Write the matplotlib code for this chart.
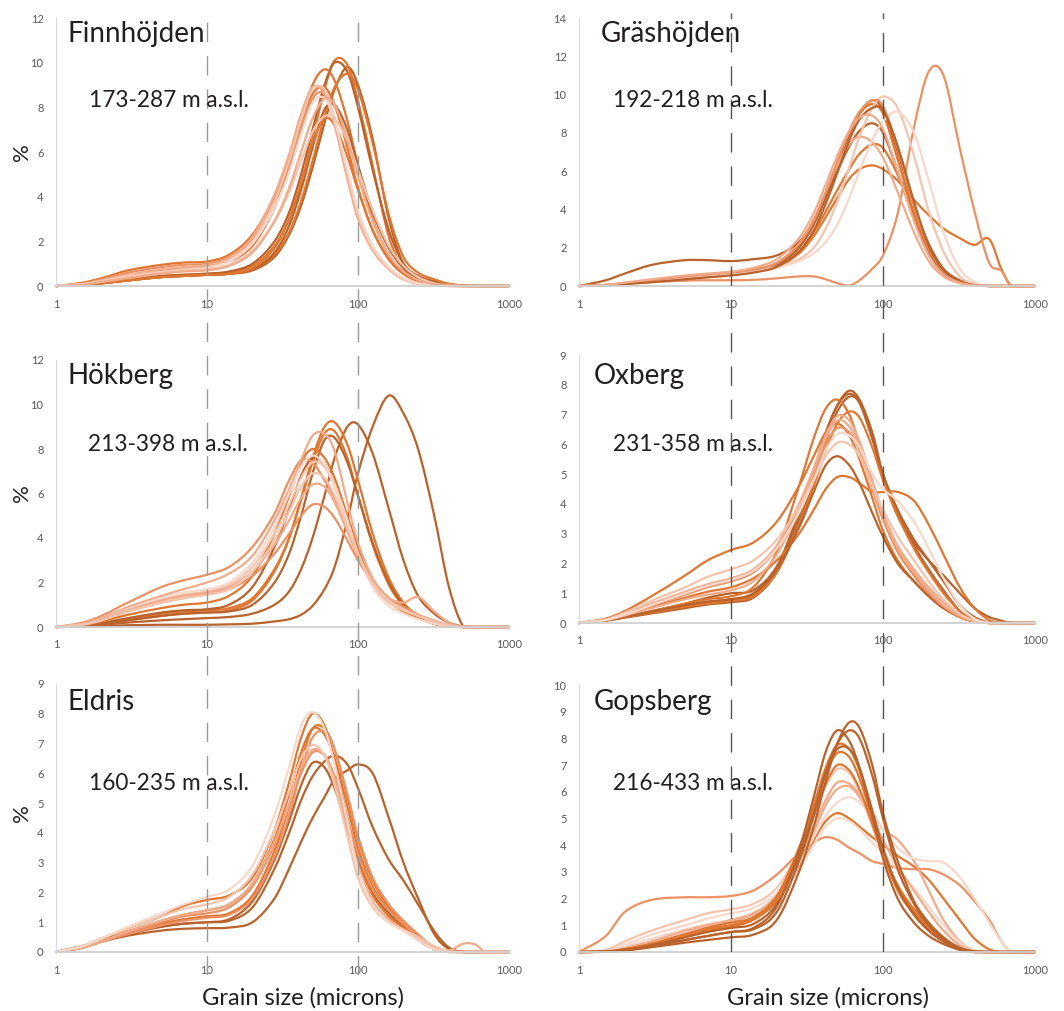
import matplotlib
matplotlib.use('Agg')
import matplotlib.pyplot as plt
import numpy as np
from matplotlib.path import Path
from matplotlib.patches import PathPatch
from matplotlib.ticker import FixedLocator, NullLocator

# grain size classes (microns) shared by all curves
grain_size = [1, 1.5, 2, 3, 5, 7, 10, 14, 20, 28, 35, 42, 50, 60, 70, 85,
              100, 125, 160, 200, 250, 320, 400, 500, 600, 700, 1000]

# shades of orange used for the samples
D = '#B9622B'
O = '#DF7731'
M = '#EB9163'
L = '#F1AB8B'
P = '#F5C4AE'
W = '#F8D8CB'

# --- Finnhöjden ---
finn_colors = [D, O, D, O, O, D, O, O, M, L, P, W, P, L]
finn_curves = [
    [0, 0.05, 0.12, 0.25, 0.4, 0.45, 0.5, 0.55, 0.7, 1.3, 2.3, 3.6, 5.3, 7.3, 8.8, 9.8, 9.0, 6.6, 3.0, 1.0, 0.45, 0.2, 0.08, 0.03, 0.01, 0, 0],
    [0, 0.05, 0.15, 0.3, 0.45, 0.5, 0.55, 0.6, 0.9, 1.8, 3.0, 4.6, 6.6, 8.8, 10.1, 9.9, 8.3, 5.4, 2.2, 0.8, 0.35, 0.15, 0.05, 0.01, 0, 0, 0],
    [0, 0.05, 0.15, 0.3, 0.45, 0.5, 0.55, 0.65, 1.0, 2.0, 3.3, 5.0, 7.0, 9.0, 10.0, 9.6, 8.0, 5.2, 2.5, 1.0, 0.45, 0.2, 0.05, 0, 0, 0, 0],
    [0, 0.08, 0.2, 0.45, 0.7, 0.8, 0.9, 1.1, 1.8, 3.5, 5.3, 7.3, 9.0, 9.7, 9.2, 7.4, 5.4, 3.0, 1.4, 0.6, 0.25, 0.08, 0.02, 0, 0, 0, 0],
    [0, 0.05, 0.12, 0.25, 0.4, 0.45, 0.5, 0.55, 0.75, 1.4, 2.4, 3.8, 5.6, 7.6, 8.9, 9.5, 8.8, 6.4, 3.2, 1.3, 0.6, 0.3, 0.1, 0.02, 0, 0, 0],
    [0, 0.05, 0.12, 0.25, 0.4, 0.45, 0.5, 0.55, 0.75, 1.5, 2.7, 4.3, 6.2, 7.9, 8.1, 7.0, 5.4, 3.3, 1.7, 0.8, 0.35, 0.12, 0.03, 0, 0, 0, 0],
    [0, 0.05, 0.12, 0.25, 0.4, 0.45, 0.5, 0.55, 0.8, 1.7, 3.0, 4.6, 6.4, 7.5, 7.2, 5.8, 4.3, 2.5, 1.2, 0.55, 0.25, 0.08, 0.02, 0, 0, 0, 0],
    [0, 0.15, 0.35, 0.7, 0.95, 1.05, 1.1, 1.4, 2.3, 4.0, 5.7, 7.3, 8.6, 8.9, 8.1, 6.2, 4.4, 2.5, 1.2, 0.55, 0.22, 0.06, 0.01, 0, 0, 0, 0],
    [0, 0.1, 0.3, 0.6, 0.85, 0.95, 1.0, 1.3, 2.1, 3.8, 5.4, 7.0, 8.4, 8.6, 7.4, 5.0, 3.2, 1.7, 0.8, 0.35, 0.12, 0.03, 0, 0, 0, 0, 0],
    [0, 0.1, 0.25, 0.5, 0.75, 0.85, 0.95, 1.25, 2.2, 4.1, 5.9, 7.7, 8.9, 8.6, 7.2, 4.8, 3.0, 1.6, 0.75, 0.3, 0.1, 0.03, 0, 0, 0, 0, 0],
    [0, 0.08, 0.22, 0.45, 0.65, 0.75, 0.85, 1.15, 2.0, 3.8, 5.6, 7.4, 8.8, 8.8, 7.5, 5.1, 3.2, 1.7, 0.8, 0.35, 0.12, 0.03, 0, 0, 0, 0, 0],
    [0, 0.08, 0.2, 0.4, 0.6, 0.7, 0.8, 1.1, 1.9, 3.5, 5.1, 6.8, 8.2, 8.4, 7.4, 5.2, 3.4, 1.8, 0.85, 0.35, 0.12, 0.03, 0, 0, 0, 0, 0],
    [0, 0.08, 0.2, 0.4, 0.6, 0.7, 0.75, 0.95, 1.6, 2.9, 4.2, 5.6, 6.9, 7.6, 7.5, 6.5, 5.2, 3.4, 1.8, 0.9, 0.4, 0.12, 0.03, 0, 0, 0, 0],
    [0, 0.06, 0.18, 0.35, 0.55, 0.65, 0.7, 0.9, 1.5, 2.9, 4.4, 6.0, 7.5, 8.4, 8.1, 6.6, 4.9, 2.9, 1.4, 0.65, 0.27, 0.08, 0.02, 0, 0, 0, 0],
]

# --- Gräshöjden ---
gras_colors = [D, O, M, O, D, O, L, P, W, M, D, L]
gras_curves = [
    [0, 0.3, 0.65, 1.1, 1.35, 1.35, 1.3, 1.4, 1.6, 2.3, 3.4, 4.8, 6.3, 7.9, 9.0, 9.7, 9.2, 7.0, 4.2, 2.2, 0.9, 0.3, 0.08, 0, 0, 0, 0],
    [0, 0.05, 0.12, 0.25, 0.4, 0.5, 0.6, 0.75, 1.0, 1.7, 2.6, 3.6, 4.6, 5.6, 6.1, 6.3, 6.1, 5.5, 4.5, 3.7, 3.0, 2.5, 2.15, 2.45, 0.9, 0, 0],
    [0, 0.05, 0.12, 0.2, 0.28, 0.3, 0.3, 0.32, 0.4, 0.5, 0.5, 0.35, 0.15, 0.03, 0.3, 0.9, 1.6, 3.8, 8.3, 11.2, 11.0, 7.2, 3.9, 1.2, 0.8, 0, 0],
    [0, 0.05, 0.15, 0.3, 0.5, 0.6, 0.7, 0.85, 1.2, 2.1, 3.3, 4.8, 6.4, 8.0, 9.0, 9.5, 9.0, 6.6, 3.8, 1.8, 0.7, 0.2, 0.05, 0, 0, 0, 0],
    [0, 0.05, 0.12, 0.25, 0.45, 0.55, 0.65, 0.8, 1.1, 2.0, 3.2, 4.6, 6.0, 7.3, 8.1, 8.5, 8.0, 6.0, 3.5, 1.7, 0.65, 0.2, 0.05, 0, 0, 0, 0],
    [0, 0.05, 0.12, 0.25, 0.45, 0.55, 0.6, 0.75, 1.0, 1.8, 2.8, 3.9, 5.0, 6.1, 6.9, 7.4, 7.2, 5.8, 3.7, 1.9, 0.8, 0.25, 0.06, 0, 0, 0, 0],
    [0, 0.05, 0.15, 0.3, 0.5, 0.6, 0.7, 0.85, 1.2, 2.2, 3.5, 4.9, 6.3, 7.4, 7.8, 7.5, 6.7, 4.9, 2.8, 1.3, 0.5, 0.15, 0.03, 0, 0, 0, 0],
    [0, 0.05, 0.15, 0.3, 0.5, 0.6, 0.7, 0.8, 1.0, 1.4, 2.0, 3.0, 4.4, 6.2, 7.8, 9.3, 9.9, 9.3, 6.8, 3.9, 1.8, 0.5, 0.1, 0, 0, 0, 0],
    [0, 0.05, 0.12, 0.25, 0.45, 0.55, 0.65, 0.75, 0.95, 1.3, 1.7, 2.3, 3.2, 4.6, 6.0, 7.6, 8.6, 9.1, 8.0, 5.5, 2.8, 0.9, 0.2, 0, 0, 0, 0],
    [0, 0.05, 0.15, 0.3, 0.5, 0.6, 0.7, 0.85, 1.2, 2.2, 3.4, 4.9, 6.5, 8.1, 9.1, 9.7, 9.4, 7.2, 4.2, 2.0, 0.8, 0.25, 0.05, 0, 0, 0, 0],
    [0, 0.04, 0.1, 0.2, 0.35, 0.45, 0.55, 0.7, 1.0, 1.8, 2.9, 4.3, 5.9, 7.6, 8.7, 9.3, 9.2, 7.3, 4.4, 2.1, 0.85, 0.25, 0.05, 0, 0, 0, 0],
    [0, 0.06, 0.18, 0.35, 0.55, 0.65, 0.75, 0.95, 1.4, 2.5, 3.8, 5.3, 6.8, 8.1, 8.8, 8.9, 8.2, 6.0, 3.4, 1.6, 0.6, 0.18, 0.04, 0, 0, 0, 0],
]

# --- Hökberg ---
hok_colors = [D, D, O, O, D, D, O, M, L, M, P, W, L, P]
hok_curves = [
    [0, 0.02, 0.05, 0.08, 0.1, 0.1, 0.1, 0.12, 0.15, 0.25, 0.35, 0.55, 0.95, 1.7, 2.7, 4.8, 6.9, 9.0, 10.4, 9.6, 8.0, 5.0, 1.8, 0, 0, 0, 0],
    [0, 0.03, 0.1, 0.2, 0.3, 0.35, 0.4, 0.45, 0.6, 1.0, 1.6, 2.6, 4.0, 5.9, 7.6, 9.0, 9.1, 7.8, 5.3, 3.0, 1.4, 0.6, 0.2, 0.02, 0, 0, 0],
    [0, 0.04, 0.12, 0.3, 0.5, 0.6, 0.65, 0.75, 1.2, 2.5, 4.0, 5.8, 7.6, 9.0, 9.2, 8.2, 6.6, 4.2, 2.2, 1.1, 0.5, 0.2, 0.05, 0, 0, 0, 0],
    [0, 0.05, 0.15, 0.35, 0.6, 0.7, 0.75, 0.85, 1.3, 2.6, 4.0, 5.7, 7.4, 8.7, 8.8, 7.6, 5.9, 3.7, 1.9, 0.95, 0.45, 0.15, 0.03, 0, 0, 0, 0],
    [0, 0.04, 0.12, 0.3, 0.5, 0.6, 0.65, 0.7, 1.0, 2.0, 3.3, 5.0, 6.9, 8.4, 8.5, 7.4, 5.9, 3.8, 2.0, 1.0, 0.45, 0.15, 0.03, 0, 0, 0, 0],
    [0, 0.05, 0.18, 0.4, 0.65, 0.75, 0.8, 1.0, 1.8, 3.6, 5.3, 6.8, 7.6, 7.3, 6.4, 4.8, 3.5, 2.1, 1.2, 0.7, 0.4, 0.15, 0.03, 0, 0, 0, 0],
    [0, 0.08, 0.25, 0.55, 0.85, 1.0, 1.1, 1.4, 2.3, 4.2, 5.9, 7.4, 8.0, 7.6, 6.7, 5.0, 3.6, 2.1, 1.2, 0.7, 0.4, 0.15, 0.03, 0, 0, 0, 0],
    [0, 0.2, 0.5, 1.1, 1.8, 2.1, 2.35, 2.7, 3.6, 5.1, 6.6, 7.5, 7.4, 6.6, 5.8, 4.4, 3.2, 2.0, 1.2, 0.8, 0.5, 0.25, 0.07, 0, 0, 0, 0],
    [0, 0.15, 0.4, 0.9, 1.4, 1.7, 2.0, 2.4, 3.2, 4.8, 6.2, 7.5, 8.6, 8.7, 7.9, 5.6, 3.8, 2.2, 1.3, 0.9, 0.55, 0.3, 0.1, 0, 0, 0, 0],
    [0, 0.1, 0.3, 0.7, 1.1, 1.3, 1.5, 1.7, 2.3, 3.3, 4.2, 5.0, 5.5, 5.4, 4.9, 3.9, 3.0, 2.0, 1.3, 0.9, 0.55, 0.25, 0.06, 0, 0, 0, 0],
    [0, 0.12, 0.35, 0.75, 1.2, 1.45, 1.6, 1.9, 2.7, 4.2, 5.5, 6.7, 7.4, 7.2, 6.3, 4.7, 3.3, 1.9, 1.1, 0.75, 0.5, 0.25, 0.07, 0, 0, 0, 0],
    [0, 0.12, 0.35, 0.8, 1.3, 1.55, 1.7, 2.0, 2.9, 4.5, 6.0, 7.2, 7.7, 7.3, 6.4, 4.8, 3.3, 1.8, 0.95, 0.6, 0.35, 0.15, 0.04, 0, 0, 0, 0],
    [0, 0.12, 0.35, 0.75, 1.2, 1.4, 1.55, 1.8, 2.5, 3.7, 4.8, 5.8, 6.4, 6.3, 5.6, 4.3, 3.2, 2.0, 1.3, 1.1, 1.35, 0.7, 0.2, 0, 0, 0, 0],
    [0, 0.1, 0.3, 0.7, 1.1, 1.3, 1.45, 1.7, 2.5, 3.9, 5.2, 6.3, 6.9, 6.7, 5.9, 4.5, 3.3, 2.0, 1.2, 0.8, 0.5, 0.25, 0.07, 0, 0, 0, 0],
]

# --- Oxberg ---
ox_colors = [D, D, D, O, O, O, O, D, M, L, L, P, W]
ox_curves = [
    [0, 0.1, 0.2, 0.35, 0.55, 0.7, 0.8, 0.95, 1.8, 3.6, 5.0, 6.3, 7.3, 7.8, 7.5, 6.4, 5.0, 3.7, 2.6, 1.8, 1.1, 0.4, 0.05, 0, 0, 0, 0],
    [0, 0.08, 0.18, 0.32, 0.5, 0.62, 0.7, 0.85, 1.7, 3.4, 4.8, 6.1, 7.1, 7.6, 7.4, 6.2, 4.9, 3.6, 2.7, 2.1, 1.6, 1.0, 0.5, 0.2, 0.08, 0, 0],
    [0, 0.1, 0.22, 0.4, 0.65, 0.85, 1.0, 1.1, 1.9, 3.7, 5.1, 6.4, 7.3, 7.7, 7.4, 6.2, 5.0, 3.8, 2.8, 2.1, 1.4, 0.6, 0.2, 0.02, 0, 0, 0],
    [0, 0.1, 0.22, 0.4, 0.65, 0.8, 0.9, 1.2, 2.4, 4.6, 6.2, 7.2, 7.5, 7.0, 6.0, 4.6, 3.5, 2.4, 1.6, 1.0, 0.55, 0.2, 0.05, 0, 0, 0, 0],
    [0, 0.1, 0.3, 0.55, 0.85, 1.05, 1.2, 1.5, 2.1, 3.0, 3.8, 4.5, 4.9, 4.9, 4.7, 4.4, 4.4, 4.4, 4.1, 3.3, 2.3, 1.2, 0.5, 0.1, 0, 0, 0],
    [0, 0.15, 0.4, 0.9, 1.6, 2.1, 2.45, 2.7, 3.4, 4.6, 5.6, 6.4, 6.7, 6.3, 5.5, 4.2, 3.1, 2.1, 1.4, 0.9, 0.5, 0.2, 0.05, 0, 0, 0, 0],
    [0, 0.08, 0.2, 0.35, 0.55, 0.65, 0.75, 0.9, 1.7, 3.3, 4.6, 5.8, 6.7, 7.1, 6.9, 5.9, 4.8, 3.6, 2.5, 1.7, 1.0, 0.4, 0.1, 0, 0, 0, 0],
    [0, 0.08, 0.2, 0.38, 0.6, 0.72, 0.8, 1.0, 1.8, 3.2, 4.4, 5.3, 5.6, 5.3, 4.7, 3.7, 2.9, 2.0, 1.4, 0.9, 0.5, 0.2, 0.05, 0, 0, 0, 0],
    [0, 0.1, 0.3, 0.6, 0.95, 1.2, 1.4, 1.7, 2.5, 3.9, 5.0, 6.0, 6.55, 6.4, 5.8, 4.5, 3.5, 2.4, 1.6, 1.0, 0.55, 0.2, 0.05, 0, 0, 0, 0],
    [0, 0.12, 0.32, 0.65, 1.05, 1.3, 1.5, 1.8, 2.6, 4.0, 5.2, 6.3, 6.95, 6.8, 6.1, 4.8, 3.7, 2.6, 1.8, 1.2, 0.7, 0.3, 0.08, 0, 0, 0, 0],
    [0, 0.1, 0.25, 0.5, 0.8, 0.95, 1.1, 1.4, 2.3, 3.8, 5.1, 6.2, 6.8, 6.6, 5.9, 4.6, 3.6, 2.5, 1.7, 1.1, 0.6, 0.25, 0.06, 0, 0, 0, 0],
    [0, 0.12, 0.35, 0.75, 1.2, 1.55, 1.8, 2.1, 2.8, 3.9, 4.8, 5.6, 6.05, 6.0, 5.6, 4.6, 3.8, 2.9, 2.1, 1.4, 0.8, 0.3, 0.08, 0, 0, 0, 0],
    [0, 0.1, 0.28, 0.6, 1.0, 1.25, 1.45, 1.75, 2.5, 3.7, 4.8, 5.8, 6.35, 6.3, 5.9, 5.0, 4.5, 4.1, 3.4, 2.5, 1.5, 0.6, 0.15, 0, 0, 0, 0],
]

# --- Eldris ---
eld_colors = [D, D, D, O, O, O, M, M, L, P, W]
eld_curves = [
    [0, 0.2, 0.35, 0.55, 0.72, 0.78, 0.8, 0.82, 1.0, 1.8, 2.8, 3.7, 4.5, 5.2, 5.8, 6.1, 6.3, 6.0, 4.5, 3.0, 1.8, 0.6, 0.1, 0, 0, 0, 0],
    [0, 0.2, 0.4, 0.65, 0.85, 0.95, 1.0, 1.05, 1.5, 2.8, 4.0, 5.1, 5.9, 6.4, 6.6, 6.3, 5.5, 4.2, 3.1, 2.4, 1.6, 0.7, 0.15, 0, 0, 0, 0],
    [0, 0.15, 0.35, 0.6, 0.85, 0.95, 1.0, 1.1, 1.7, 3.1, 4.4, 5.6, 6.35, 6.2, 5.5, 4.2, 3.1, 2.0, 1.3, 0.85, 0.45, 0.1, 0, 0, 0, 0, 0],
    [0, 0.2, 0.45, 0.8, 1.2, 1.55, 1.75, 1.9, 2.5, 4.1, 5.7, 7.2, 8.0, 7.6, 6.4, 4.5, 3.1, 1.9, 1.2, 0.8, 0.4, 0.1, 0, 0, 0, 0, 0],
    [0, 0.15, 0.35, 0.65, 0.95, 1.1, 1.2, 1.3, 1.9, 3.4, 4.9, 6.4, 7.5, 7.5, 6.8, 5.2, 3.8, 2.4, 1.5, 1.0, 0.55, 0.15, 0.02, 0, 0, 0, 0],
    [0, 0.15, 0.4, 0.7, 1.05, 1.25, 1.4, 1.6, 2.3, 3.8, 5.3, 6.7, 7.5, 7.3, 6.5, 4.9, 3.5, 2.2, 1.4, 0.9, 0.5, 0.12, 0.02, 0, 0, 0, 0],
    [0, 0.15, 0.35, 0.6, 0.9, 1.05, 1.15, 1.25, 1.8, 3.2, 4.6, 6.1, 7.2, 7.4, 6.8, 5.3, 3.9, 2.5, 1.6, 1.05, 0.6, 0.15, 0.02, 0, 0, 0, 0],
    [0, 0.15, 0.35, 0.65, 1.0, 1.2, 1.3, 1.5, 2.2, 3.6, 4.9, 6.0, 6.7, 6.6, 5.9, 4.5, 3.3, 2.1, 1.4, 0.95, 0.5, 0.15, 0.02, 0, 0, 0, 0],
    [0, 0.15, 0.35, 0.7, 1.05, 1.25, 1.4, 1.6, 2.3, 3.7, 5.0, 6.2, 6.8, 6.6, 5.8, 4.2, 2.9, 1.7, 1.1, 0.75, 0.45, 0.15, 0.05, 0.28, 0.25, 0, 0],
    [0, 0.2, 0.45, 0.8, 1.2, 1.45, 1.6, 1.85, 2.6, 4.1, 5.4, 6.5, 6.95, 6.6, 5.6, 3.9, 2.5, 1.5, 1.0, 0.75, 0.5, 0.2, 0.03, 0, 0, 0, 0],
    [0, 0.2, 0.45, 0.85, 1.3, 1.6, 1.85, 2.1, 2.9, 4.6, 6.2, 7.6, 8.05, 7.5, 6.3, 4.4, 2.8, 1.6, 1.0, 0.7, 0.4, 0.1, 0, 0, 0, 0, 0],
]

# --- Gopsberg ---
gop_colors = [M, O, L, W, L, W, P, O, O, O, D, D, D, D]
gop_curves = [
    [0, 0.6, 1.5, 1.95, 2.05, 2.05, 2.1, 2.3, 2.9, 3.7, 4.1, 4.3, 4.2, 3.9, 3.7, 3.4, 3.3, 3.15, 3.1, 3.1, 2.9, 2.5, 1.9, 1.2, 0.4, 0, 0],
    [0, 0.02, 0.1, 0.3, 0.6, 0.8, 0.95, 1.2, 1.9, 3.2, 4.2, 4.9, 5.2, 5.0, 4.7, 4.3, 4.0, 3.6, 3.2, 2.7, 2.0, 1.2, 0.5, 0.1, 0, 0, 0],
    [0, 0.02, 0.12, 0.35, 0.7, 0.95, 1.15, 1.4, 2.1, 3.5, 4.7, 5.7, 6.35, 6.3, 5.9, 5.2, 4.6, 4.2, 3.4, 2.3, 1.2, 0.4, 0.05, 0, 0, 0, 0],
    [0, 0.03, 0.2, 0.5, 0.85, 1.05, 1.2, 1.45, 2.0, 3.1, 4.0, 4.7, 5.0, 4.9, 4.6, 4.1, 3.7, 3.1, 2.4, 1.7, 1.0, 0.35, 0.05, 0, 0, 0, 0],
    [0, 0.02, 0.15, 0.4, 0.8, 1.0, 1.2, 1.45, 2.1, 3.4, 4.5, 5.5, 6.1, 6.2, 5.8, 5.0, 4.2, 3.2, 2.3, 1.5, 0.8, 0.25, 0.03, 0, 0, 0, 0],
    [0, 0.04, 0.28, 0.65, 1.0, 1.25, 1.45, 1.65, 2.2, 3.3, 4.3, 5.1, 5.6, 5.8, 5.6, 5.1, 4.6, 3.9, 3.5, 3.4, 3.35, 2.8, 2.0, 1.1, 0.4, 0, 0],
    [0, 0.08, 0.4, 0.8, 1.2, 1.45, 1.6, 1.8, 2.4, 3.8, 5.1, 6.2, 6.85, 6.7, 6.0, 4.7, 3.6, 2.4, 1.5, 0.9, 0.4, 0.1, 0, 0, 0, 0, 0],
    [0, 0.02, 0.1, 0.3, 0.65, 0.9, 1.1, 1.3, 2.1, 3.9, 5.5, 6.9, 7.75, 7.6, 6.8, 5.1, 3.7, 2.3, 1.4, 0.8, 0.4, 0.1, 0, 0, 0, 0, 0],
    [0, 0.02, 0.1, 0.3, 0.65, 0.85, 1.0, 1.25, 2.0, 3.8, 5.3, 6.7, 7.45, 7.3, 6.5, 5.0, 3.8, 2.4, 1.5, 0.9, 0.45, 0.12, 0, 0, 0, 0, 0],
    [0, 0.02, 0.1, 0.3, 0.65, 0.85, 1.0, 1.25, 2.0, 3.7, 5.1, 6.3, 7.0, 6.8, 6.1, 4.8, 3.7, 2.5, 1.6, 1.0, 0.5, 0.15, 0, 0, 0, 0, 0],
    [0, 0.01, 0.08, 0.25, 0.55, 0.75, 0.9, 1.05, 1.8, 3.6, 5.2, 6.7, 7.6, 7.6, 6.9, 5.3, 3.9, 2.4, 1.4, 0.8, 0.4, 0.1, 0, 0, 0, 0, 0],
    [0, 0.01, 0.06, 0.22, 0.45, 0.6, 0.75, 0.9, 1.7, 3.8, 5.8, 7.5, 8.3, 7.9, 6.9, 5.1, 3.5, 2.0, 1.1, 0.6, 0.3, 0.08, 0, 0, 0, 0, 0],
    [0, 0.01, 0.06, 0.22, 0.45, 0.6, 0.75, 0.85, 1.5, 3.4, 5.1, 6.7, 7.8, 8.3, 8.0, 6.6, 5.0, 3.1, 1.8, 1.0, 0.5, 0.15, 0.02, 0, 0, 0, 0],
    [0, 0.01, 0.05, 0.18, 0.35, 0.45, 0.55, 0.65, 1.2, 3.0, 4.7, 6.4, 7.8, 8.6, 8.4, 7.0, 5.2, 3.4, 1.9, 1.1, 0.55, 0.15, 0.02, 0, 0, 0, 0],
]

site_names = ['Finnhöjden', 'Gräshöjden', 'Hökberg', 'Oxberg', 'Eldris', 'Gopsberg']
site_heights = ['173-287 m a.s.l.', '192-218 m a.s.l.', '213-398 m a.s.l.',
                '231-358 m a.s.l.', '160-235 m a.s.l.', '216-433 m a.s.l.']
site_curves = [finn_curves, gras_curves, hok_curves, ox_curves, eld_curves, gop_curves]
site_colors = [finn_colors, gras_colors, hok_colors, ox_colors, eld_colors, gop_colors]
y_max = [12, 14, 12, 9, 9, 10]
y_step = [2, 2, 2, 1, 1, 1]

# layout, in pixels of the 1064x1011 picture
W, H = 1064, 1011
boxes = [(56, 18, 509, 286), (579, 18, 1035, 286),
         (56, 360, 509, 627), (579, 355, 1035, 623),
         (56, 684, 509, 952), (579, 685, 1035, 952)]
name_pos = [(67, 42), (601, 42), (67, 384), (594, 384), (67, 710), (594, 710)]
height_pos = [(89, 107), (613, 107), (88, 451), (613, 451), (89, 790), (613, 790)]

FONT = 'Lato'
TXT = '#231F20'
TICK = '#595959'


def px_axes(fig, left, top, right, bottom):
    return fig.add_axes([left / W, 1 - bottom / H, (right - left) / W,
                         (bottom - top) / H])


def px_text(fig, x, y, s, **kw):
    fig.text(x / W, 1 - y / H, s, va='baseline', ha='left', family=FONT,
             color=TXT, **kw)


def smooth_line(xs, ys):
    # smoothed line like the spreadsheet draws it: cubic pieces through the
    # points, built in log-x so it bends the same way on the log axis
    u = np.log10(xs)
    y = np.asarray(ys, dtype=float)
    slope = np.empty(len(u))
    slope[0] = (y[1] - y[0]) / (u[1] - u[0])
    slope[-1] = (y[-1] - y[-2]) / (u[-1] - u[-2])
    slope[1:-1] = (y[2:] - y[:-2]) / (u[2:] - u[:-2])
    verts = [(xs[0], y[0])]
    codes = [Path.MOVETO]
    for k in range(len(u) - 1):
        h = u[k + 1] - u[k]
        c1 = (10 ** (u[k] + h / 3), max(y[k] + slope[k] * h / 3, 0))
        c2 = (10 ** (u[k + 1] - h / 3), max(y[k + 1] - slope[k + 1] * h / 3, 0))
        verts += [c1, c2, (xs[k + 1], y[k + 1])]
        codes += [Path.CURVE4] * 3
    return Path(verts, codes)


fig = plt.figure(figsize=(W / 100, H / 100), dpi=100)

for i in range(6):
    ax = px_axes(fig, *boxes[i])
    ax.set_xscale('log')
    ax.set_xlim(1, 1000)
    ax.set_ylim(0, y_max[i])
    for col, vals in zip(site_colors[i], site_curves[i]):
        if len(vals) != len(grain_size):
            raise ValueError(f'{site_names[i]}: curve has {len(vals)} values')
        ax.add_patch(PathPatch(smooth_line(grain_size, vals), fill=False,
                               edgecolor=col, lw=1.6, clip_on=False,
                               joinstyle='round', capstyle='round'))
    ax.xaxis.set_major_locator(FixedLocator([1, 10, 100, 1000]))
    ax.xaxis.set_minor_locator(NullLocator())
    ax.set_xticklabels(['1', '10', '100', '1000'])
    ax.set_yticks(range(0, y_max[i] + 1, y_step[i]))
    ax.tick_params(length=0, labelsize=8, labelcolor=TICK)
    ax.tick_params(axis='y', pad=9)
    ax.tick_params(axis='x', pad=9)
    for lab in ax.get_xticklabels() + ax.get_yticklabels():
        lab.set_family(FONT)
    for side in ('top', 'right'):
        ax.spines[side].set_visible(False)
    ax.spines['left'].set_color('#d9d9d9')
    ax.spines['left'].set_linewidth(0.8)
    ax.spines['bottom'].set_color('#d0d0d0')
    ax.spines['bottom'].set_linewidth(1.3)
    ax.patch.set_alpha(0)

    px_text(fig, *name_pos[i], site_names[i], fontsize=20)
    px_text(fig, *height_pos[i], site_heights[i], fontsize=16.3)

# % labels on the left column
for yc in (152, 493, 813):
    fig.text(22 / W, 1 - yc / H, '%', rotation=90, ha='center', va='center',
             family=FONT, fontsize=16, color=TXT)

# x labels under the bottom row
for xc in (303, 828):
    fig.text(xc / W, 1 - 1005 / H, 'Grain size (microns)', ha='center',
             va='baseline', family=FONT, fontsize=17, color=TXT)

# dashed guide lines at 10 and 100 microns, running down each column
for (left, right, bottom, colour) in [(56, 509, 975, '#9a9a9a'),
                                     (579, 1035, 952, '#555555')]:
    over = px_axes(fig, left, 13, right, bottom)
    over.set_xscale('log')
    over.set_xlim(1, 1000)
    over.set_ylim(0, 1)
    over.axis('off')
    for xv in (10, 100):
        over.axvline(xv, color=colour, lw=1.0, dashes=(14, 10))

fig.savefig('out.png', dpi=100)
